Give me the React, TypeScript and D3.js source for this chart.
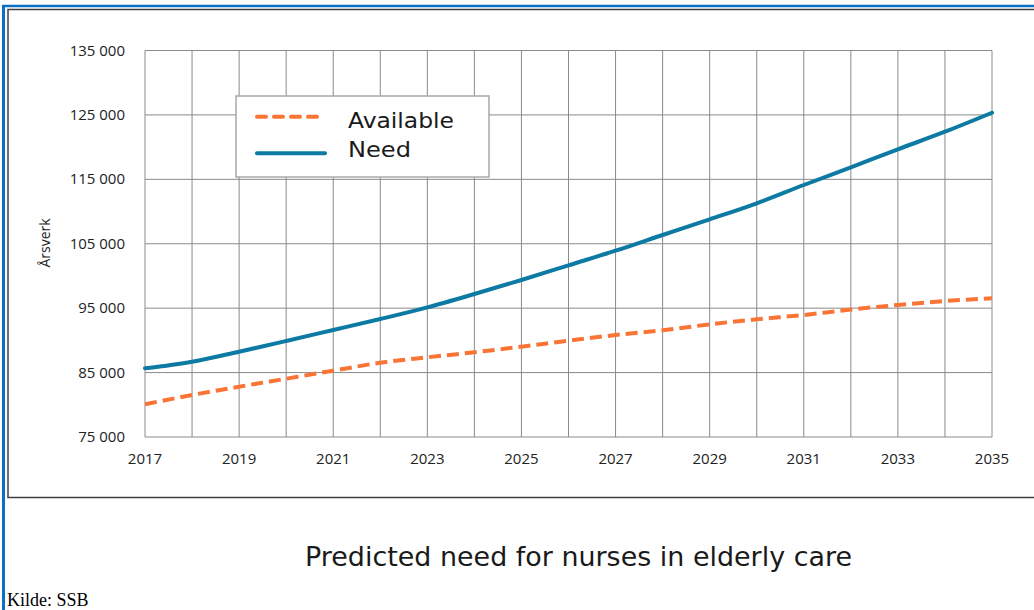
import React from "react";
import * as d3 from "d3";

const years = [2017, 2018, 2019, 2020, 2021, 2022, 2023, 2024, 2025, 2026, 2027, 2028, 2029, 2030, 2031, 2032, 2033, 2034, 2035];
const needValues = [85660, 86690, 88240, 89900, 91610, 93320, 95130, 97200, 99370, 101650, 103920, 106360, 108790, 111280, 114120, 116870, 119660, 122390, 125340];
const availableValues = [80080, 81520, 82810, 84050, 85290, 86530, 87370, 88150, 89020, 89950, 90830, 91560, 92490, 93270, 93940, 94780, 95490, 96110, 96530];
const yTicks = [75000, 85000, 95000, 105000, 115000, 125000, 135000];
const xLabelYears = [2017, 2019, 2021, 2023, 2025, 2027, 2029, 2031, 2033, 2035];
const legendLabels = ["Available", "Need"];
const titleText = "Predicted need for nurses in elderly care";
const yAxisLabel = "Årsverk";
const sourceText = "Kilde: SSB";

const W = 1034;
const H = 610;
const left = 145, right = 992, top = 50.5, bottom = 437;

const ORANGE = "#fa7436";
const BLUE = "#0d7aa3";
const GRID = "#8a8a8a";

export default function App() {
  const x = d3.scaleLinear().domain([2017, 2035]).range([left, right]);
  const y = d3.scaleLinear().domain([75000, 135000]).range([bottom, top]);
  const line = d3
    .line<[number, number]>()
    .x((d) => x(d[0]))
    .y((d) => y(d[1]))
    .curve(d3.curveMonotoneX);
  const needPath = line(years.map((yr, i) => [yr, needValues[i]]));
  const availPath = line(years.map((yr, i) => [yr, availableValues[i]]));
  const fmt = (v: number) => d3.format(",")(v).replace(",", " ");
  const tickFont = "'Open Sans', 'Noto Sans', sans-serif";
  const geoFont = "'DejaVu Sans', 'Liberation Sans', sans-serif";

  return (
    <svg width={W} height={H} style={{ position: "absolute", left: 0, top: 0, background: "#fff" }}>
      {/* outer blue frame */}
      <line x1={3.5} x2={3.5} y1={5} y2={H} stroke="#0a72c6" strokeWidth={3} />
      <line x1={2} x2={W} y1={6} y2={6} stroke="#0a72c6" strokeWidth={2.5} />
      {/* inner dark frame */}
      <path d={`M${W},9.5 H8 V497.5 H${W}`} fill="none" stroke="#404040" strokeWidth={1.5} />

      {/* grid */}
      {years.map((yr) => (
        <line key={"v" + yr} x1={x(yr)} x2={x(yr)} y1={top} y2={bottom} stroke={GRID} strokeWidth={1} />
      ))}
      {yTicks.map((t) => (
        <line key={"h" + t} x1={left} x2={right} y1={y(t)} y2={y(t)} stroke={GRID} strokeWidth={1} />
      ))}

      {/* y tick labels */}
      {yTicks.map((t) => (
        <text key={"yl" + t} x={125} y={y(t) + 5} textAnchor="end" fontFamily={tickFont} fontSize={15} fill="#222">
          {fmt(t)}
        </text>
      ))}
      {/* x tick labels */}
      {xLabelYears.map((yr) => (
        <text key={"xl" + yr} x={x(yr)} y={464} textAnchor="middle" fontFamily={tickFont} fontSize={15} fill="#222">
          {yr}
        </text>
      ))}
      {/* y axis label */}
      <text
        transform={`translate(50,243) rotate(-90)`}
        textAnchor="middle"
        fontFamily={tickFont}
        fontSize={14}
        fill="#222"
      >
        {yAxisLabel}
      </text>

      {/* series */}
      <path d={availPath || ""} fill="none" stroke={ORANGE} strokeWidth={4} strokeDasharray="12,6" />
      <path d={needPath || ""} fill="none" stroke={BLUE} strokeWidth={4} strokeLinecap="round" />

      {/* legend */}
      <rect x={236} y={96} width={253} height={81} fill="#fff" stroke="#a8a8a8" strokeWidth={1.5} />
      <line x1={257} x2={317} y1={116.7} y2={116.7} stroke={ORANGE} strokeWidth={4} strokeDasharray="9,8" strokeLinecap="round" />
      <line x1={257} x2={325} y1={153.3} y2={153.3} stroke={BLUE} strokeWidth={4} strokeLinecap="round" />
      <text x={348} y={128} fontFamily={geoFont} fontSize={22} fill="#1a1a1a" textLength={106} lengthAdjust="spacingAndGlyphs">
        {legendLabels[0]}
      </text>
      <text x={348} y={157} fontFamily={geoFont} fontSize={22} fill="#1a1a1a" textLength={63} lengthAdjust="spacingAndGlyphs">
        {legendLabels[1]}
      </text>

      {/* title */}
      <text x={305} y={566} fontFamily={geoFont} fontSize={27} fill="#1a1a1a" textLength={547} lengthAdjust="spacingAndGlyphs">
        {titleText}
      </text>

      {/* source */}
      <text x={7} y={606} fontFamily="'Liberation Serif', 'DejaVu Serif', serif" fontSize={18} fill="#000">
        {sourceText}
      </text>
    </svg>
  );
}
